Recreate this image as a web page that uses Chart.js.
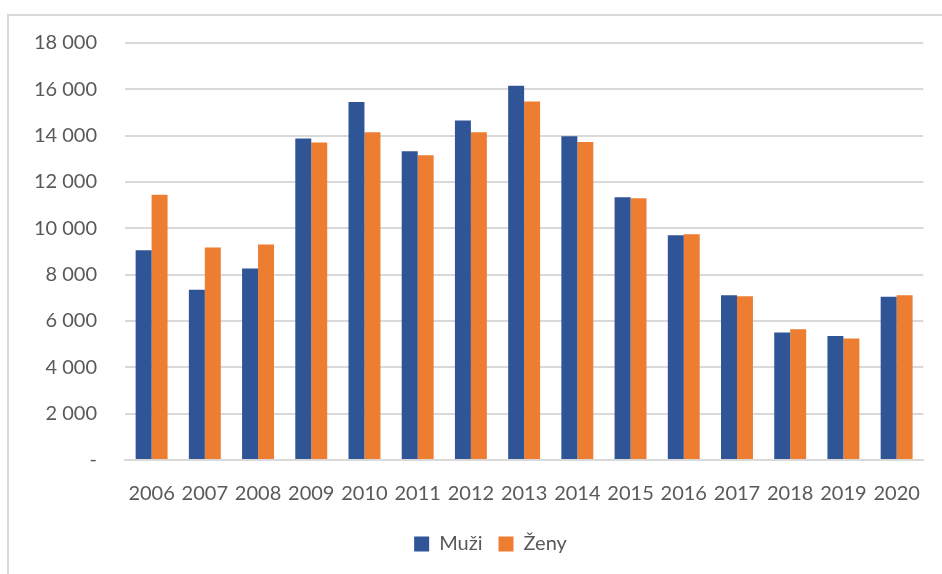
<!DOCTYPE html>
<html>
<head>
<meta charset="utf-8">
<script src="https://cdn.jsdelivr.net/npm/chart.js@4"></script>
<style>
  html, body { margin: 0; padding: 0; background: #fff; }
  #wrap { position: relative; width: 942px; height: 574px; }
  #frame { position: absolute; left: 7px; top: 14px; right: -2px; bottom: -2px; border-left: 2px solid #d9d9d9; border-top: 2px solid #d9d9d9; }
  canvas { position: absolute; left: 0; top: 0; }
</style>
</head>
<body>
<div id="wrap">
  <div id="frame"></div>
  <canvas id="c" width="942" height="574"></canvas>
</div>
<script>
const years = ['2006','2007','2008','2009','2010','2011','2012','2013','2014','2015','2016','2017','2018','2019','2020'];
const muzi  = [9050, 7350, 8270, 13880, 15450, 13330, 14650, 16150, 13970, 11340, 9700, 7110, 5500, 5350, 7050];
const zeny  = [11450, 9170, 9300, 13700, 14150, 13160, 14150, 15470, 13730, 11300, 9740, 7070, 5640, 5250, 7110];
const yTicks = [0, 2000, 4000, 6000, 8000, 10000, 12000, 14000, 16000, 18000];

const FONT = 'Lato, "Open Sans", sans-serif';
const TXT = '#595959';

const shiftLegend = {
  id: 'shiftLegend',
  afterLayout(chart) {
    const lg = chart.legend;
    if (lg) { lg.left += 17; lg.right += 17; }
  }
};

new Chart(document.getElementById('c'), {
  type: 'bar',
  data: {
    labels: years,
    datasets: [
      { label: 'Muži', data: muzi, backgroundColor: '#2f5597', borderWidth: 0 },
      { label: 'Ženy', data: zeny, backgroundColor: '#ed7d31', borderWidth: 0 }
    ]
  },
  plugins: [shiftLegend],
  options: {
    responsive: false,
    animation: false,
    devicePixelRatio: 1,
    layout: { padding: { left: 10, right: 5, top: 43, bottom: 10 } },
    datasets: { bar: { categoryPercentage: 0.6, barPercentage: 1.0 } },
    plugins: {
      tooltip: { enabled: false },
      legend: {
        position: 'bottom',
        labels: {
          color: TXT,
          font: { family: FONT, size: 20 },
          boxWidth: 15, boxHeight: 15, padding: 16
        }
      }
    },
    scales: {
      x: {
        grid: { display: false, drawTicks: false },
        border: { display: true, color: '#d9d9d9', width: 2 },
        ticks: { color: TXT, font: { family: FONT, size: 20 }, padding: 22, maxRotation: 0, autoSkip: false },
        afterFit: (s) => { s.height = 58; }
      },
      y: {
        min: 0, max: 18000,
        afterBuildTicks: (s) => { s.ticks = yTicks.map(v => ({ value: v })); },
        grid: { color: '#d9d9d9', lineWidth: 2, drawTicks: false },
        border: { display: false },
        ticks: {
          color: TXT, font: { family: FONT, size: 20 }, padding: 28,
          callback: (v) => v === 0 ? '-' : String(v).replace(/\B(?=(\d{3})+(?!\d))/g, ' ')
        },
        afterFit: (s) => { s.width = 115; }
      }
    }
  }
});
</script>
</body>
</html>
